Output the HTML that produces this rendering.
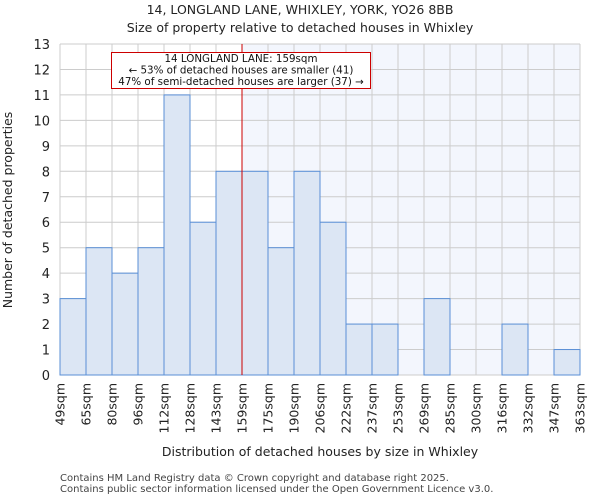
<!DOCTYPE html>
<html><head><meta charset="utf-8"><style>
body{margin:0;background:#fff;font-family:"DejaVu Sans","Liberation Sans",sans-serif;}
</style></head><body>
<svg width="600" height="500" xmlns="http://www.w3.org/2000/svg" font-family="DejaVu Sans, Liberation Sans, sans-serif">
<g id="root"></g>
</svg>
<script>
const edges=["49sqm","65sqm","80sqm","96sqm","112sqm","128sqm","143sqm","159sqm","175sqm","190sqm","206sqm","222sqm","237sqm","253sqm","269sqm","285sqm","300sqm","316sqm","332sqm","347sqm","363sqm"];
const counts=[3,5,4,5,11,6,8,8,5,8,6,2,2,0,3,0,0,2,0,1];
const yTicks=[0,1,2,3,4,5,6,7,8,9,10,11,12,13];
const markerIndex=7;
const L=60,R=580,T=44,B=375,yMax=13;
const n=counts.length,bw=(R-L)/n;
const X=i=>L+i*bw, Y=v=>B-(B-T)*v/yMax;
const ns="http://www.w3.org/2000/svg",root=document.getElementById('root');
function mk(t,a,p){const e=document.createElementNS(ns,t);for(const k in a)e.setAttribute(k,a[k]);(p||root).appendChild(e);return e;}
let e;
e=mk('rect',{x:X(markerIndex),y:T,width:R-X(markerIndex),height:B-T,fill:'#f3f6fd'});


for(const v of yTicks){e=mk('line',{x1:L,x2:R,y1:Y(v),y2:Y(v),stroke:'#cccccc','stroke-width':1});


e=mk('text',{x:L-10,y:Y(v)+5,'text-anchor':'end','font-size':13,fill:'#222'});e.textContent=v;

}
for(let i=0;i<=n;i++){e=mk('line',{x1:X(i),x2:X(i),y1:T,y2:B,stroke:'#cccccc','stroke-width':1});


e=mk('text',{transform:`translate(${X(i)+4.5},${B+8}) rotate(-90)`,'text-anchor':'end','font-size':12.5,fill:'#222'});e.textContent=edges[i];

}
counts.forEach((c,i)=>{if(!c)return;e=mk('rect',{x:X(i),y:Y(c),width:bw,height:B-Y(c),fill:'#dce6f4',stroke:'#5a8fd6','stroke-width':1});

});
e=mk('line',{x1:X(markerIndex),x2:X(markerIndex),y1:T,y2:B,stroke:'#cc0000','stroke-width':1});


e=mk('rect',{x:111.5,y:52.5,width:259,height:36,fill:'#fff',stroke:'#cc0000','stroke-width':1});


[["14 LONGLAND LANE: 159sqm",63],["← 53% of detached houses are smaller (41)",74.5],["47% of semi-detached houses are larger (37) →",86]].forEach(([t,y])=>{e=mk('text',{x:241,y:y-1,'text-anchor':'middle','font-size':10.3,fill:'#111'});e.textContent=t;

});
function txt(t,a,name){e=mk('text',a);e.textContent=t;}
txt("14, LONGLAND LANE, WHIXLEY, YORK, YO26 8BB",{x:300,y:14,'text-anchor':'middle','font-size':12.5,fill:'#222'},'chart-title');
txt("Size of property relative to detached houses in Whixley",{x:300,y:32,'text-anchor':'middle','font-size':12.5,fill:'#222'},'chart-subtitle');
txt("Distribution of detached houses by size in Whixley",{x:320,y:456,'text-anchor':'middle','font-size':12.5,fill:'#222'},'x-axis-title');
e=mk('text',{transform:'translate(12,210) rotate(-90)','text-anchor':'middle','font-size':12.5,fill:'#222'});e.textContent="Number of detached properties";


txt("Contains HM Land Registry data © Crown copyright and database right 2025.",{x:60,y:481,'font-size':10,fill:'#444'},'footer-line-1');
txt("Contains public sector information licensed under the Open Government Licence v3.0.",{x:60,y:492,'font-size':10,fill:'#444'},'footer-line-2');
</script>
</body></html>
